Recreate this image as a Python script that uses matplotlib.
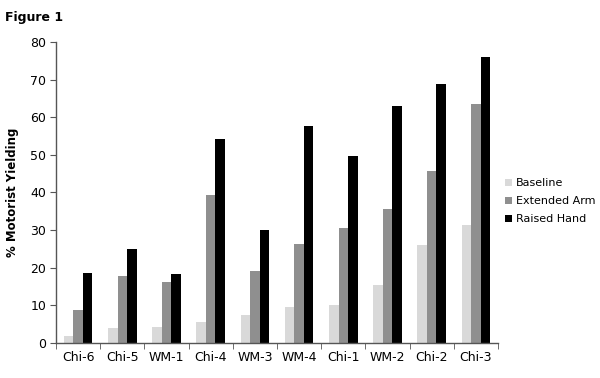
import numpy as np
import matplotlib.pyplot as plt
from matplotlib.patches import Patch

sites = ["Chi-6", "Chi-5", "WM-1", "Chi-4", "WM-3", "WM-4", "Chi-1", "WM-2", "Chi-2", "Chi-3"]
baseline = [1.9, 3.9, 4.3, 5.5, 7.4, 9.7, 10.1, 15.4, 26.1, 31.4]
extended_arm = [8.8, 17.8, 16.1, 39.4, 19.1, 26.3, 30.6, 35.5, 45.6, 63.6]
raised_hand = [18.7, 24.9, 18.3, 54.2, 30.0, 57.6, 49.6, 63.0, 68.9, 76.1]
series_names = ["Baseline", "Extended Arm", "Raised Hand"]
colors = ["#d9d9d9", "#8f8f8f", "#000000"]

fig = plt.figure(figsize=(6, 3.78), dpi=100)
ax = fig.add_axes([0.0933, 0.0926, 0.7367, 0.7963])

x = np.arange(len(sites))
w = 0.215
for k, (vals, c) in enumerate(zip([baseline, extended_arm, raised_hand], colors)):
    ax.bar(x + (k - 1) * w, vals, width=w, color=c, edgecolor="none")

ax.set_xlim(-0.5, len(sites) - 0.5)
ax.set_ylim(0, 80)
ax.set_yticks(range(0, 81, 10))
ax.set_xticks(x)
ax.set_xticklabels(sites, fontsize=9)
ax.set_xticks(np.arange(-0.5, len(sites), 1), minor=True)
ax.tick_params(axis="x", which="major", length=0, pad=6)
ax.tick_params(axis="x", which="minor", length=4, color="#555555", direction="out")
ax.tick_params(axis="y", length=4, color="#555555", labelsize=9, pad=3)
for s in ["top", "right"]:
    ax.spines[s].set_visible(False)
for s in ["left", "bottom"]:
    ax.spines[s].set_color("#555555")
    ax.spines[s].set_linewidth(1.0)

ax.set_ylabel("% Motorist Yielding", fontsize=8.5, fontweight="bold", labelpad=8)

handles = [Patch(facecolor=c, edgecolor="none") for c in colors]
fig.legend(handles, series_names, loc="upper left", bbox_to_anchor=(0.834, 0.54),
           frameon=False, fontsize=8, handlelength=0.6, handleheight=0.6,
           handletextpad=0.4, labelspacing=0.72, borderaxespad=0)

fig.text(0.008, 0.972, "Figure 1", fontsize=9, fontweight="bold", va="top", ha="left")

fig.savefig("out.png", dpi=100)
